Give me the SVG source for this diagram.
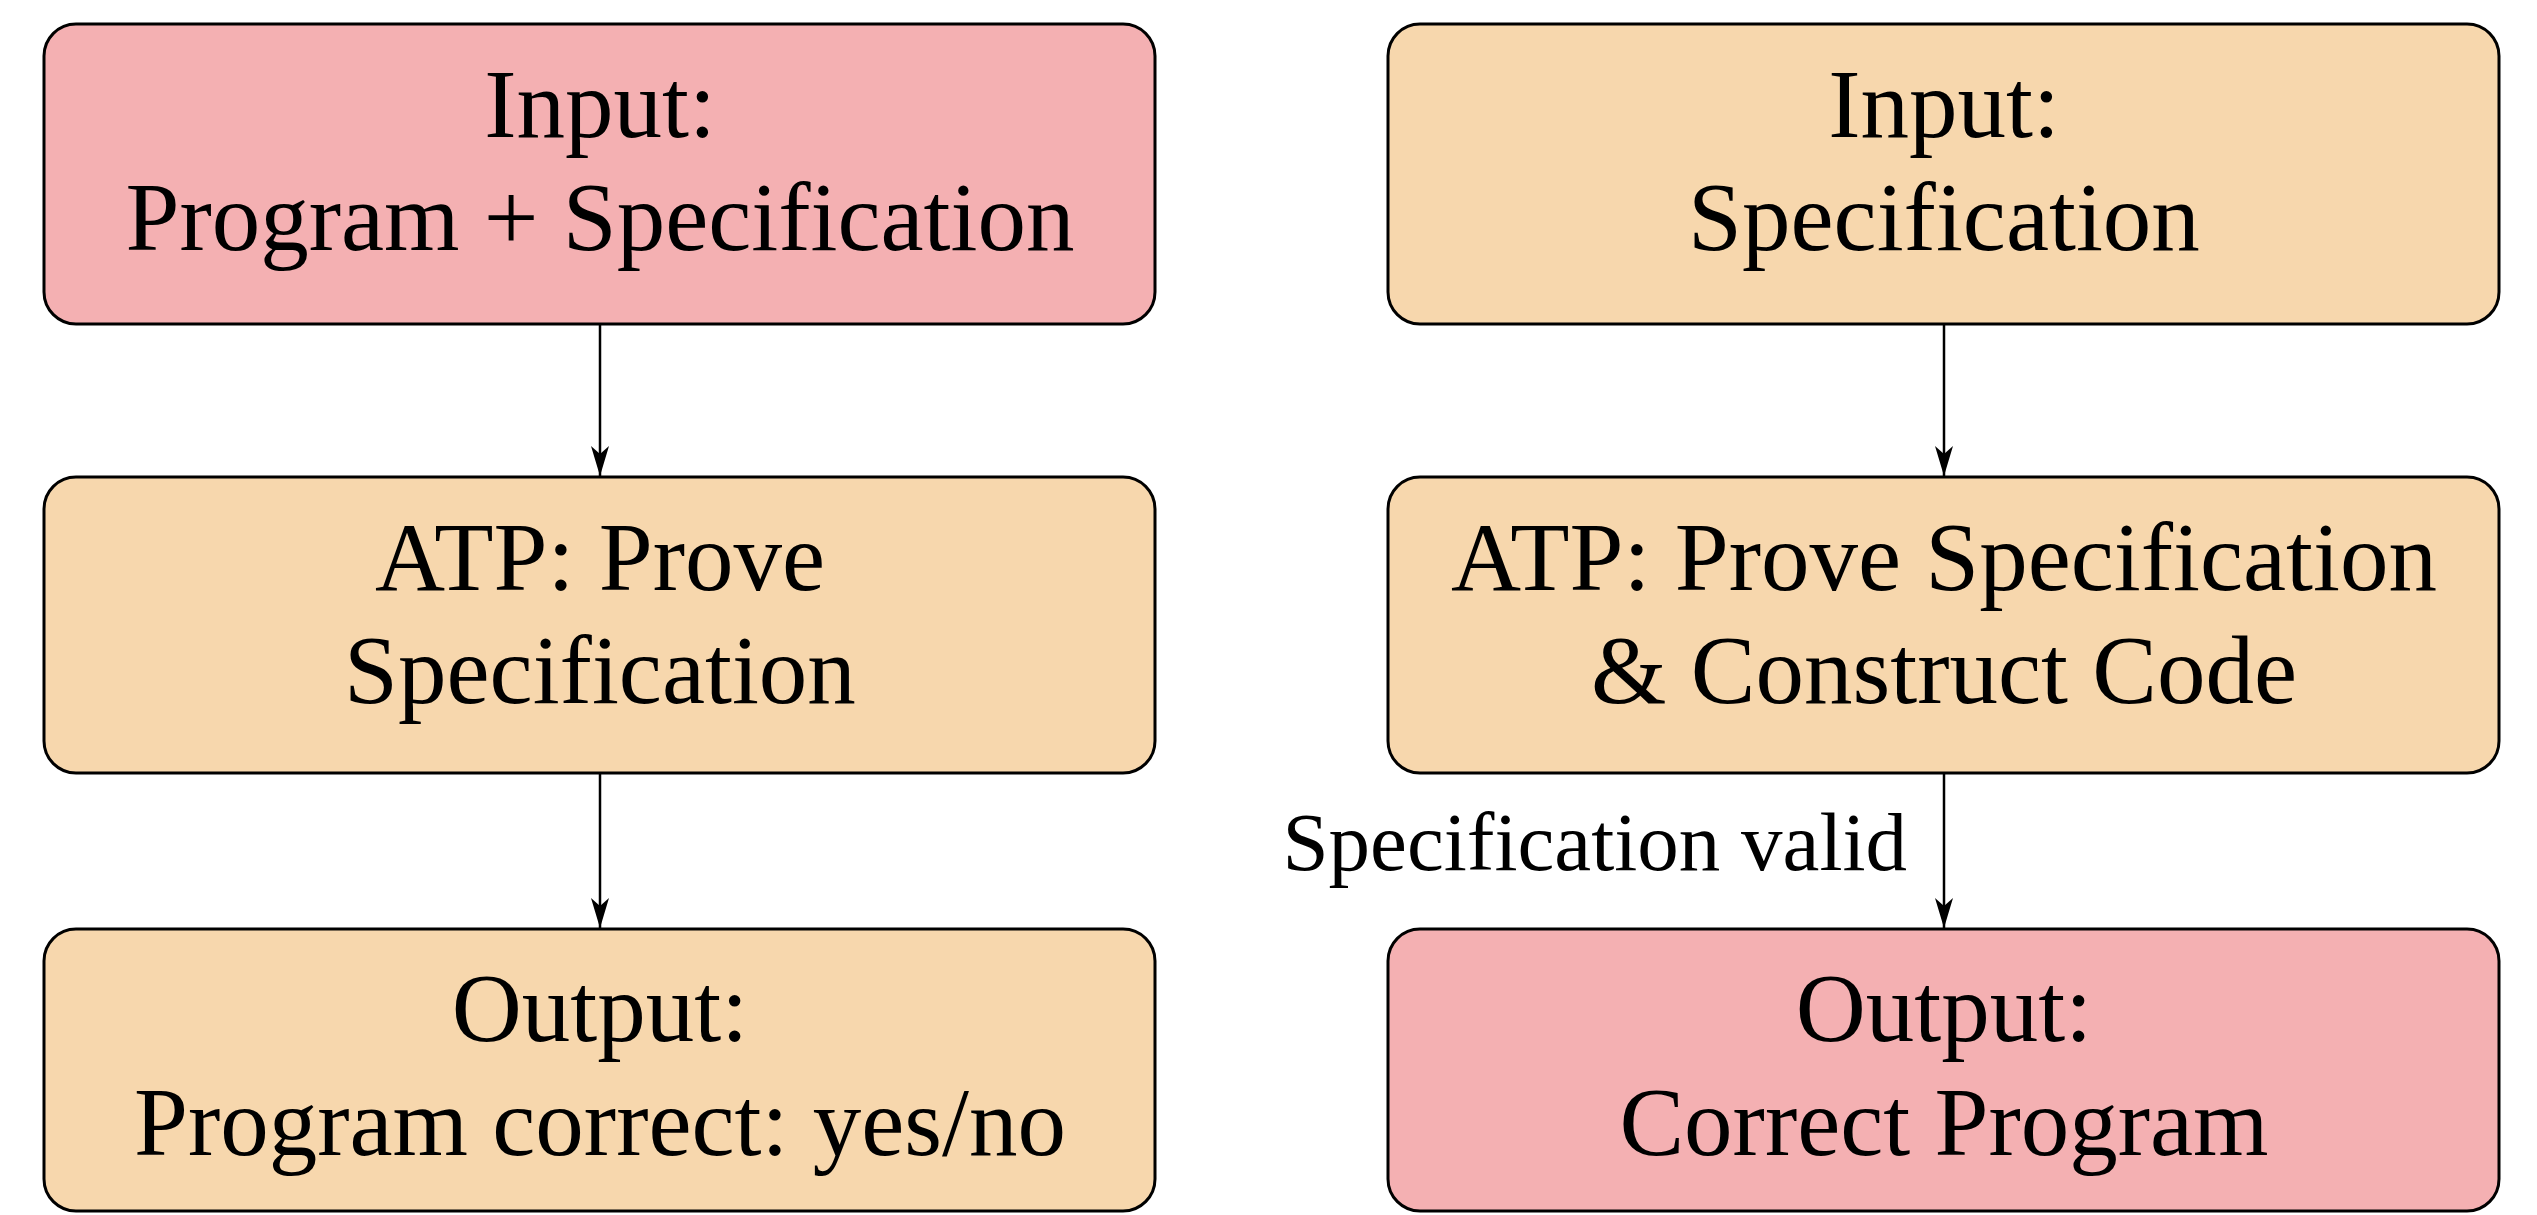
<svg xmlns="http://www.w3.org/2000/svg" width="2537" height="1215" viewBox="0 0 2537 1215">
<style>
.box{stroke:#000;stroke-width:3}
.pink{fill:#F4B0B2}
.tan{fill:#F7D7AD}
.t{font-family:"Liberation Serif","DejaVu Serif",serif;font-size:97px;fill:#000;text-anchor:middle}
.lbl{font-family:"Liberation Serif","DejaVu Serif",serif;font-size:83px;fill:#000;text-anchor:end}
.edge{stroke:#000;stroke-width:2.5;fill:none;marker-end:url(#ah)}
</style>
<defs>
<marker id="ah" markerUnits="userSpaceOnUse" viewBox="-31 -10 32 20" refX="0" refY="0" markerWidth="32" markerHeight="20" orient="auto">
<path d="M0,0 L-30,-9 L-22,0 L-30,9 Z" fill="#000"/>
</marker>
</defs>
<rect width="2537" height="1215" fill="#fff"/>
<g id="connectors">
<line class="edge" x1="600" y1="325" x2="600" y2="476"/>
<line class="edge" x1="600" y1="774" x2="600" y2="928"/>
<line class="edge" x1="1944" y1="325" x2="1944" y2="476"/>
<line class="edge" x1="1944" y1="774" x2="1944" y2="928"/>
<text class="lbl" x="1907" y="870">Specification valid</text>
</g>
<g id="left-input">
<rect class="box pink" x="44" y="24" width="1111" height="300" rx="32"/>
<text class="t" x="600" y="137">Input:</text>
<text class="t" x="600" y="250">Program + Specification</text>
</g>
<g id="left-atp">
<rect class="box tan" x="44" y="477" width="1111" height="296" rx="32"/>
<text class="t" x="600" y="590">ATP: Prove</text>
<text class="t" x="600" y="703">Specification</text>
</g>
<g id="left-output">
<rect class="box tan" x="44" y="929" width="1111" height="282" rx="32"/>
<text class="t" x="600" y="1041">Output:</text>
<text class="t" x="600" y="1155">Program correct: yes/no</text>
</g>
<g id="right-input">
<rect class="box tan" x="1388" y="24" width="1111" height="300" rx="32"/>
<text class="t" x="1944" y="137">Input:</text>
<text class="t" x="1944" y="250">Specification</text>
</g>
<g id="right-atp">
<rect class="box tan" x="1388" y="477" width="1111" height="296" rx="32"/>
<text class="t" x="1944" y="590">ATP: Prove Specification</text>
<text class="t" x="1944" y="703">&amp; Construct Code</text>
</g>
<g id="right-output">
<rect class="box pink" x="1388" y="929" width="1111" height="282" rx="32"/>
<text class="t" x="1944" y="1041">Output:</text>
<text class="t" x="1944" y="1155">Correct Program</text>
</g>
</svg>
